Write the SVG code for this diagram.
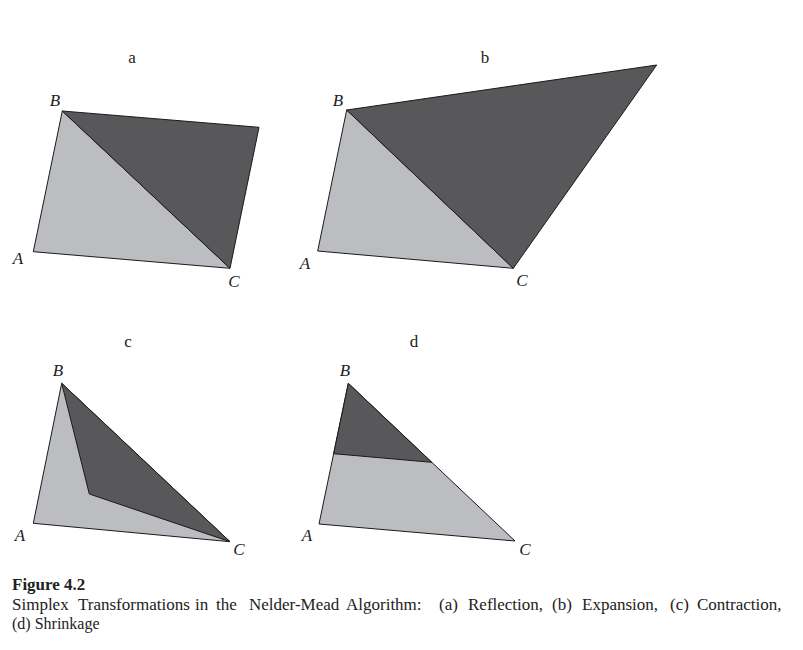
<svg xmlns="http://www.w3.org/2000/svg" width="803" height="650" viewBox="0 0 803 650">
<style>
.l{fill:#bcbdc0;stroke:#1a1a1a;stroke-width:1;stroke-linejoin:round}
.d{fill:#58585a;stroke:#1a1a1a;stroke-width:1;stroke-linejoin:round}
.t{font-family:"Liberation Serif","Times New Roman",serif;font-size:17px;fill:#222;text-anchor:middle}
.v{font-family:"Liberation Serif","Times New Roman",serif;font-size:17px;font-style:italic;fill:#222;text-anchor:middle}
.c{font-family:"Liberation Serif","Times New Roman",serif;font-size:16px;fill:#222}
.c17{font-size:17px}
</style>
<rect width="803" height="650" fill="#fff"/>
<g id="panel-a">
<polygon class="l" points="33.3,251.7 62.3,111 230,268.3"/>
<polygon class="d" points="62.3,111 259,127.3 230,268.3"/>
<text class="t" x="132" y="63">a</text>
<text class="v" x="55" y="106">B</text>
<text class="v" x="18" y="264">A</text>
<text class="v" x="234" y="287">C</text>
</g>
<g id="panel-b">
<polygon class="l" points="317.7,251 346.7,110 513.3,268.3"/>
<polygon class="d" points="346.7,110 656.7,65 513.3,268.3"/>
<text class="t" x="485" y="63">b</text>
<text class="v" x="338" y="106">B</text>
<text class="v" x="305" y="269">A</text>
<text class="v" x="522" y="286">C</text>
</g>
<g id="panel-c">
<polygon class="l" points="33.3,523.3 61.7,383.3 230,541.7"/>
<polygon class="d" points="61.7,383.3 89.3,494 230,541.7"/>
<text class="t" x="128" y="347">c</text>
<text class="v" x="58" y="376">B</text>
<text class="v" x="20" y="541">A</text>
<text class="v" x="239" y="555">C</text>
</g>
<g id="panel-d">
<polygon class="l" points="319,524 348.3,383.3 515,541"/>
<polygon class="d" points="348.3,383.3 333.7,453.7 431.7,462.3"/>
<text class="t" x="414" y="347">d</text>
<text class="v" x="345" y="376">B</text>
<text class="v" x="307" y="541">A</text>
<text class="v" x="525" y="555">C</text>
</g>
<g id="caption">
<text class="c c17" x="12" y="590" font-weight="bold">Figure 4.2</text>
<text class="c c17" y="610"><tspan x="12">Simplex</tspan> <tspan x="78">Transformations</tspan> <tspan x="195">in</tspan> <tspan x="216">the</tspan> <tspan x="249">Nelder-Mead</tspan> <tspan x="346">Algorithm:</tspan> <tspan x="439">(a)</tspan> <tspan x="468">Reflection,</tspan> <tspan x="552">(b)</tspan> <tspan x="582">Expansion,</tspan> <tspan x="670">(c)</tspan> <tspan x="697">Contraction,</tspan></text>
<text class="c" x="12" y="629">(d) Shrinkage</text>
</g>
</svg>
